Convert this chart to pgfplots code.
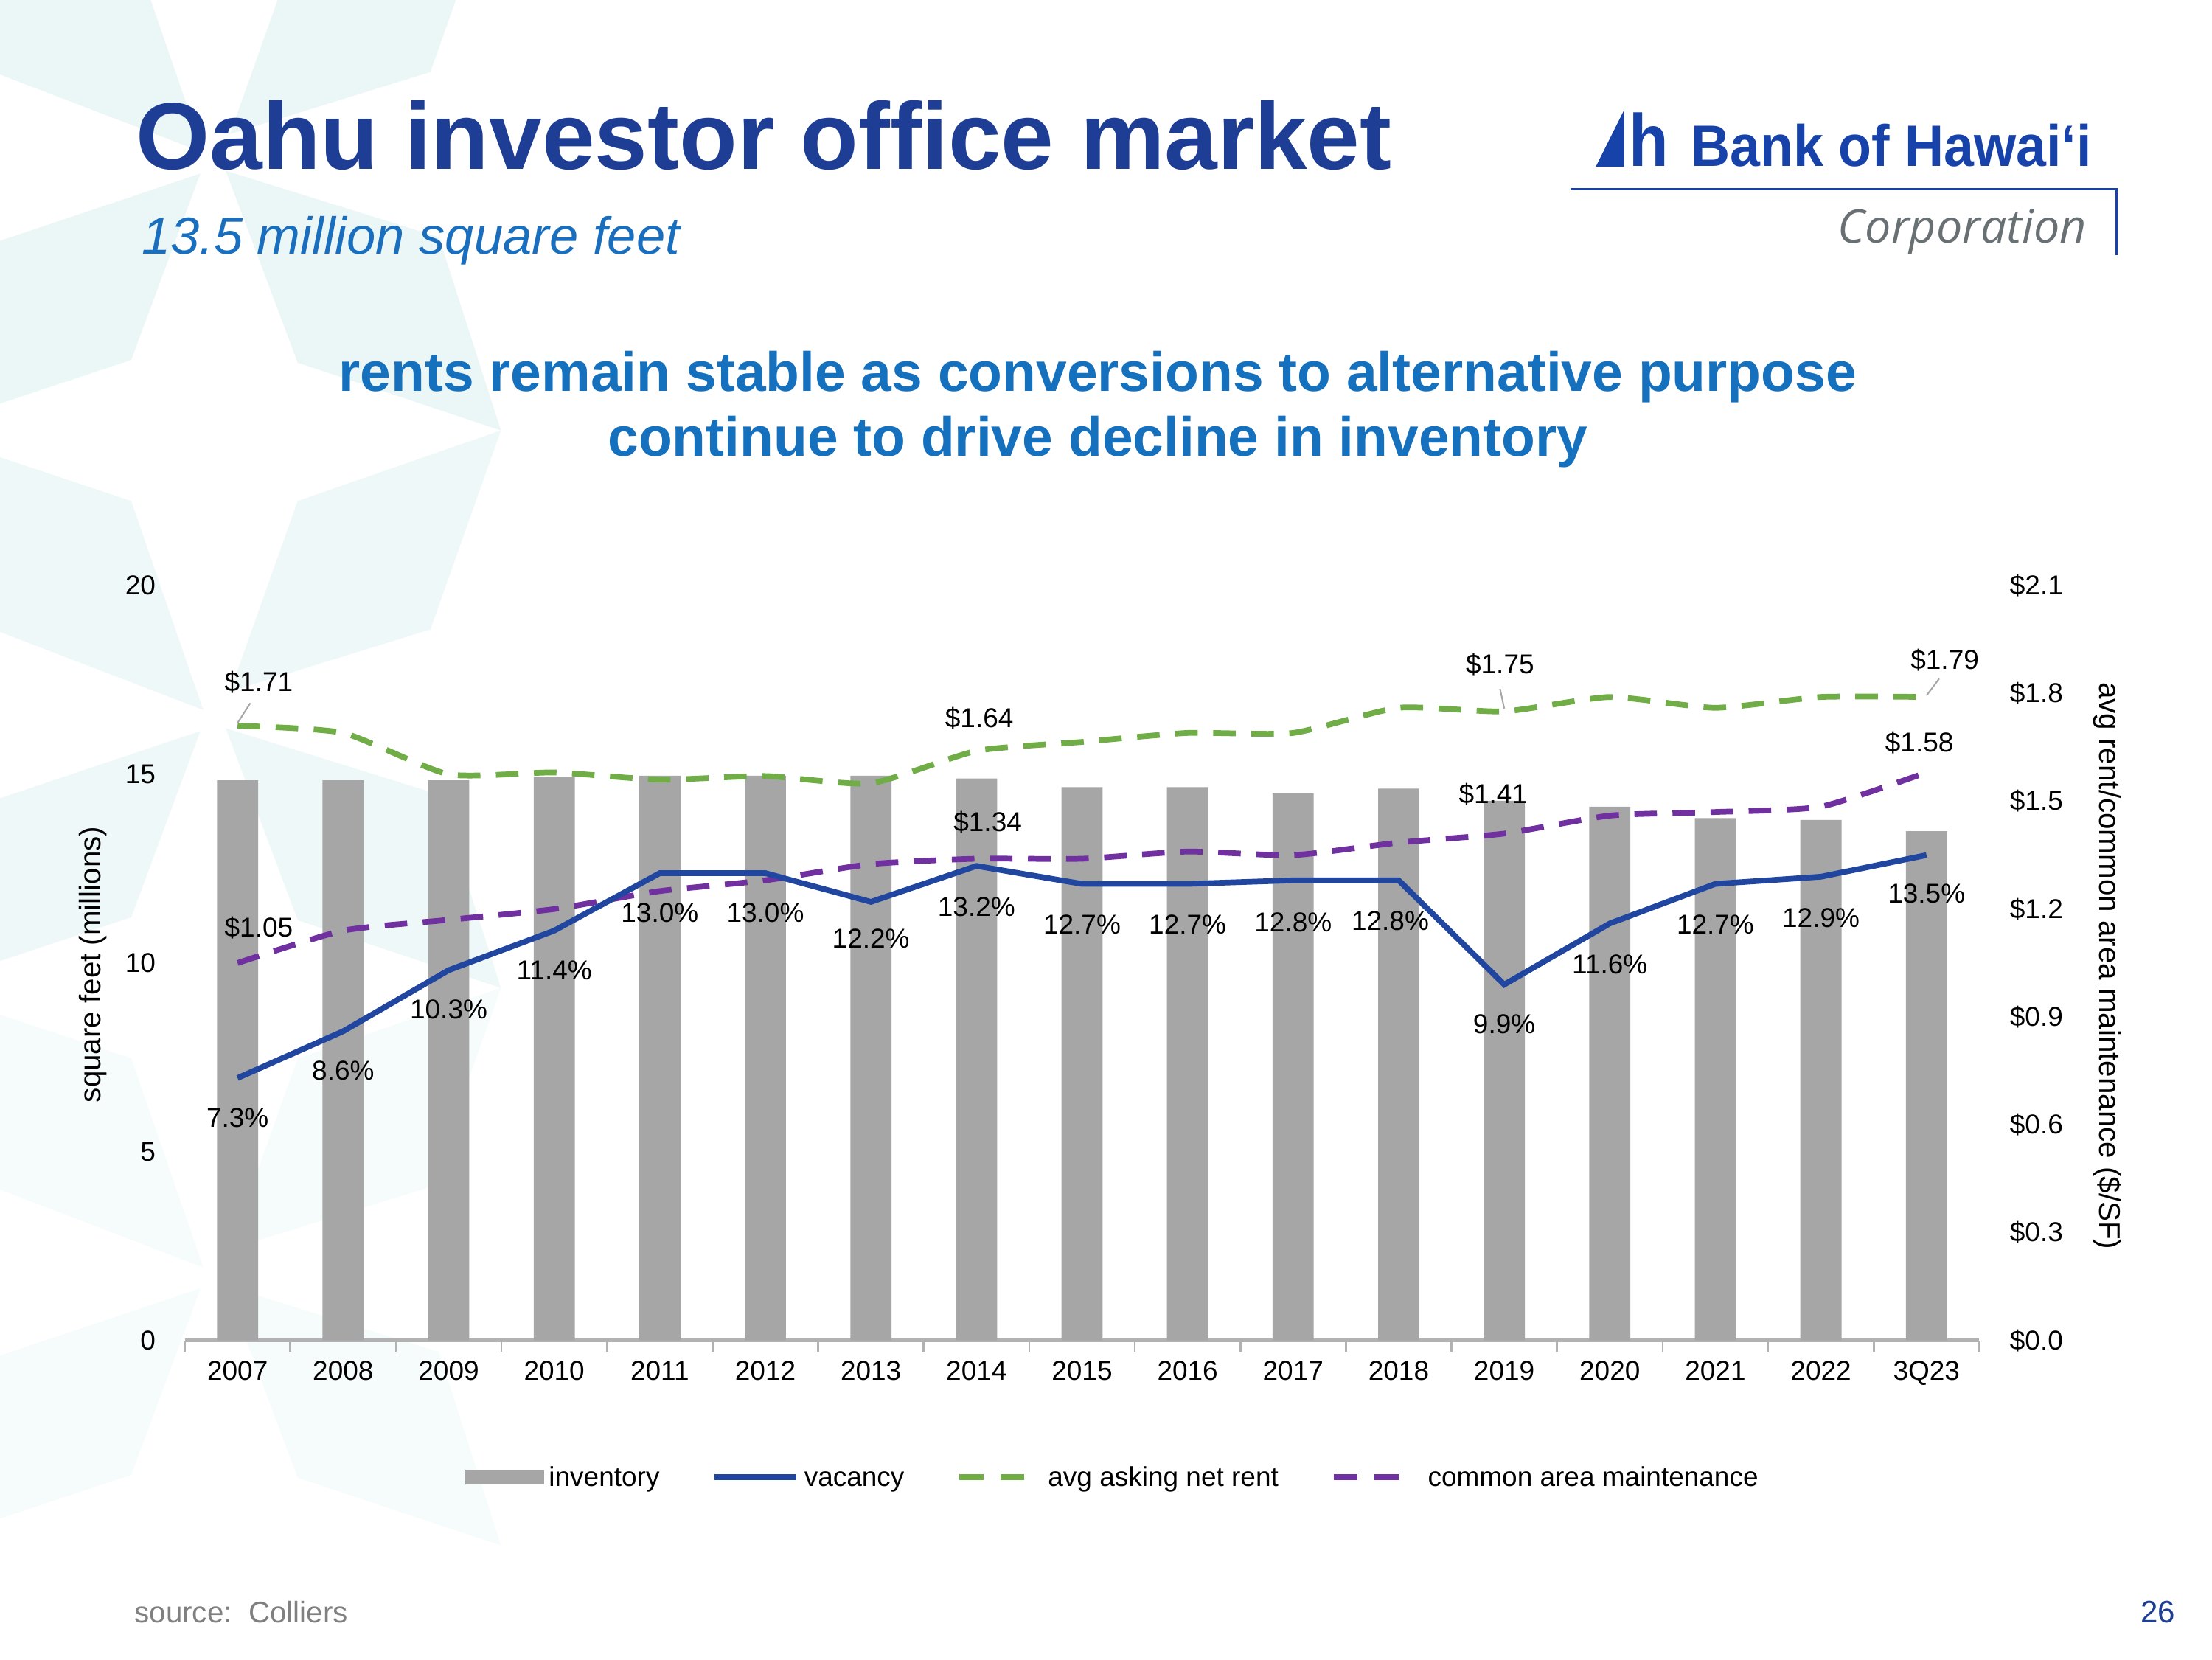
\documentclass[border=0pt]{standalone}
\usepackage{pgfplots}
\pgfplotsset{compat=1.18}
\usepackage{pgfplotstable}
\usepackage{fontspec}
\setmainfont{Liberation Sans}
\newfontfamily\corpfont{Open Sans}
\definecolor{titleBlue}{RGB}{30,62,150}
\definecolor{subBlue}{RGB}{25,110,190}
\definecolor{headBlue}{RGB}{21,112,190}
\definecolor{barGray}{RGB}{166,166,166}
\definecolor{vacBlue}{RGB}{32,70,160}
\definecolor{rentGreen}{RGB}{112,173,71}
\definecolor{camPurple}{RGB}{112,48,160}
\definecolor{bgA}{RGB}{235,246,247}
\definecolor{bgB}{RGB}{239,248,249}
\definecolor{bgC}{RGB}{246,251,251}
\definecolor{axisGray}{RGB}{178,178,178}
\definecolor{logoBlue}{RGB}{22,66,170}
\definecolor{corpGray}{RGB}{105,112,116}
\definecolor{srcGray}{RGB}{128,128,128}

\pgfplotstableread{
x inv vac rent cam
0 14.84 7.3 1.71 1.05
1 14.84 8.6 1.69 1.14
2 14.84 10.3 1.575 1.17
3 14.93 11.4 1.58 1.20
4 14.96 13.0 1.56 1.25
5 14.96 13.0 1.57 1.28
6 14.96 12.2 1.55 1.325
7 14.89 13.2 1.64 1.34
8 14.66 12.7 1.665 1.34
9 14.66 12.7 1.69 1.36
10 14.49 12.8 1.69 1.35
11 14.62 12.8 1.76 1.385
12 14.30 9.9 1.75 1.41
13 14.14 11.6 1.79 1.46
14 13.84 12.7 1.76 1.47
15 13.79 12.9 1.79 1.485
16 13.49 13.5 1.79 1.58
}\datatable

\pgfplotsset{
  /pgf/number format/assume math mode=true,
  common/.style={
    at={(2.62cm,-19cm)}, anchor=south west,
    scale only axis, width=25.44cm, height=10.7cm,
    xmin=-0.5, xmax=16.5,
  },
}
\newcommand{\lbl}{\fontsize{11}{13}\selectfont}
% one background star made of four kites around centre (#1,#2)
\newcommand{\bgstar}[3]{%
  \fill[#3] (#1,#2) -- ++(-51,-148) -- ++(-249,-83) -- ++(0,116) -- cycle;
  \fill[#3] ([shift={(19,-13)}]#1,#2) -- ++(48,-135) -- ++(144,-50) -- ++(-50,141) -- cycle;
  \fill[#3] ([shift={(-2,15)}]#1,#2) -- ++(-49,132) -- ++(-249,83) -- ++(0,-115) -- cycle;
  \fill[#3] ([shift={(16,13)}]#1,#2) -- ++(151,47) -- ++(44,137) -- ++(-144,-48) -- cycle;
}

\begin{document}
\begin{tikzpicture}
\path[use as bounding box, fill=white] (0,0) rectangle (31.36cm,-23.52cm);
\begin{scope}[x=0.02cm,y=-0.02cm]
  \clip (0,0) rectangle (1568,1176);
  % background stars (decorative)
  \bgstar{144}{108}{bgA}
  \bgstar{144}{503}{bgB}
  \bgstar{144}{898}{bgC}
  % titles
  \node[anchor=base west, inner sep=0, text=titleBlue, font=\fontsize{38.3}{46}\selectfont\bfseries] at (96,120) {Oahu investor office market};
  \node[anchor=base west, inner sep=0, text=subBlue, font=\fontsize{21}{24}\selectfont\itshape] at (100,180) {13.5 million square feet};
  \node[anchor=base, inner sep=0, text=headBlue, font=\fontsize{22.3}{26}\selectfont\bfseries] at (778,277) {rents remain stable as conversions to alternative purpose};
  \node[anchor=base, inner sep=0, text=headBlue, font=\fontsize{22.3}{26}\selectfont\bfseries] at (778,323) {continue to drive decline in inventory};
  % logo
  \fill[logoBlue] (1131,118) -- (1151,78) -- (1151,118) -- cycle;
  \node[anchor=base west, inner sep=0, text=logoBlue] at (1154,118) {\resizebox{0.56cm}{0.76cm}{\bfseries h}};
  \node[anchor=base west, inner sep=0, text=logoBlue] at (1198,118) {\resizebox{5.68cm}{0.6cm}{\bfseries Bank of Hawai‘i}};
  \draw[logoBlue, line width=0.04cm] (1113,134) -- (1500,134) -- (1500,181);
  \node[anchor=base east, inner sep=0, text=corpGray] at (1479,172) {\resizebox{3.52cm}{!}{\corpfont\itshape Corporation}};
  % footer
  \node[anchor=base west, inner sep=0, text=srcGray, font=\fontsize{12}{14}\selectfont] at (95,1150) {source:\ \ Colliers};
  \node[anchor=base east, inner sep=0, text=titleBlue, font=\fontsize{12.5}{14}\selectfont] at (1542,1150) {26};
\end{scope}

% ---------- axis 1: inventory (left) ----------
\begin{axis}[common,
  ymin=0, ymax=20, ytick={0,5,10,15,20},
  axis x line*=bottom, axis y line*=left,
  x axis line style={axisGray, line width=1.5pt, -},
  y axis line style={draw=none},
  xtick={0,...,16},
  xticklabels={2007,2008,2009,2010,2011,2012,2013,2014,2015,2016,2017,2018,2019,2020,2021,2022,3Q23},
  minor xtick={-0.5,0.5,...,16.5},
  major tick length=0pt, minor tick length=0.16cm,
  tick align=outside,
  minor tick style={axisGray, line width=0.8pt},
  major tick style={draw=none},
  tick label style={font=\lbl, text=black},
  xticklabel style={yshift=-0.17cm},
  yticklabel style={xshift=-0.29cm},
  ylabel={square feet (millions)},
  every axis y label/.style={at={(axis description cs:-0.0511,0.498)}, rotate=90, anchor=center, font=\fontsize{12}{14}\selectfont},
]
\addplot[ybar, bar width=0.39, fill=barGray, draw=none] table[x=x,y=inv]{\datatable};
\end{axis}

% ---------- axis 2: rent & CAM (right) ----------
\begin{axis}[common,
  ymin=0, ymax=2.1, ytick={0,0.3,0.6,0.9,1.2,1.5,1.8,2.1},
  axis x line=none, axis y line*=right,
  y axis line style={draw=none},
  major tick length=0pt, major tick style={draw=none},
  yticklabel={\$\pgfmathprintnumber[fixed,fixed zerofill,precision=1]{\tick}},
  tick label style={font=\lbl, text=black},
  yticklabel style={xshift=0.31cm},
  ylabel={avg rent/common area maintenance (\$/SF)},
  every axis y label/.style={at={(axis description cs:1.0715,0.496)}, rotate=-90, anchor=center, font=\fontsize{12}{14}\selectfont},
  clip=false,
]
\addplot[rentGreen, line width=2.3pt, dash pattern=on 0.32cm off 0.22cm, smooth, tension=0.35] table[x=x,y=rent]{\datatable};
\addplot[camPurple, line width=2.3pt, dash pattern=on 0.32cm off 0.22cm, smooth, tension=0.35] table[x=x,y=cam]{\datatable};
\begin{scope}[every node/.style={font=\lbl, text=black, inner sep=0}]
\node at (axis cs:0,1.71) [xshift=0.3cm, yshift=0.62cm] {\$1.71};
\draw[barGray, line width=0.6pt] ([yshift=0.04cm]axis cs:0,1.71) -- ++(0.18cm,0.28cm);
\node at (axis cs:7,1.64) [xshift=0.04cm, yshift=0.46cm] {\$1.64};
\node at (axis cs:12,1.75) [xshift=-0.06cm, yshift=0.66cm] {\$1.75};
\draw[barGray, line width=0.6pt] ([yshift=0.04cm]axis cs:12,1.75) -- ++(-0.06cm,0.28cm);
\node at (axis cs:16,1.79) [xshift=0.26cm, yshift=0.52cm] {\$1.79};
\draw[barGray, line width=0.6pt] ([yshift=0.02cm]axis cs:16,1.79) -- ++(0.18cm,0.24cm);
\node at (axis cs:0,1.05) [xshift=0.3cm, yshift=0.5cm] {\$1.05};
\node at (axis cs:7,1.34) [xshift=0.16cm, yshift=0.52cm] {\$1.34};
\node at (axis cs:12,1.41) [xshift=-0.16cm, yshift=0.56cm] {\$1.41};
\node at (axis cs:16,1.58) [xshift=-0.1cm, yshift=0.42cm] {\$1.58};
\end{scope}
\end{axis}

% ---------- axis 3: vacancy (hidden scale) ----------
\begin{axis}[common,
  ymin=0, ymax=21, hide axis, clip=false,
  legend columns=4,
  legend style={draw=none, fill=none, at={(0.518,-0.181)}, anchor=center, font=\lbl,
    /tikz/every even column/.append style={column sep=0.67cm}},
]
\addplot[vacBlue, line width=2.3pt, forget plot] table[x=x,y=vac]{\datatable};
\addlegendimage{legend image code/.code={\fill[barGray] (0cm,-0.1cm) rectangle (1.1cm,0.1cm);}}
\addlegendentry{\strut inventory}
\addlegendimage{legend image code/.code={\draw[vacBlue, line width=2.3pt] (0cm,0cm) -- (1.16cm,0cm);}}
\addlegendentry{\strut vacancy}
\addlegendimage{legend image code/.code={\draw[rentGreen, line width=2.3pt] (0cm,0cm) -- (0.34cm,0cm) (0.58cm,0cm) -- (0.92cm,0cm); \path (1.18cm,0cm);}}
\addlegendentry{\strut avg asking net rent}
\addlegendimage{legend image code/.code={\draw[camPurple, line width=2.3pt] (0cm,0cm) -- (0.34cm,0cm) (0.58cm,0cm) -- (0.92cm,0cm); \path (1.26cm,0cm);}}
\addlegendentry{\strut common area maintenance}
\begin{scope}[every node/.style={font=\lbl, text=black, inner sep=0}]
\node at (axis cs:0,7.3) [yshift=-0.56cm] {7.3\%};
\node at (axis cs:1,8.6) [yshift=-0.56cm] {8.6\%};
\node at (axis cs:2,10.3) [yshift=-0.56cm] {10.3\%};
\node at (axis cs:3,11.4) [yshift=-0.56cm] {11.4\%};
\node at (axis cs:4,13.0) [yshift=-0.56cm] {13.0\%};
\node at (axis cs:5,13.0) [yshift=-0.56cm] {13.0\%};
\node at (axis cs:6,12.2) [yshift=-0.52cm] {12.2\%};
\node at (axis cs:7,13.2) [yshift=-0.58cm] {13.2\%};
\node at (axis cs:8,12.7) [yshift=-0.58cm] {12.7\%};
\node at (axis cs:9,12.7) [yshift=-0.58cm] {12.7\%};
\node at (axis cs:10,12.8) [yshift=-0.6cm] {12.8\%};
\node at (axis cs:11,12.8) [xshift=-0.12cm, yshift=-0.58cm] {12.8\%};
\node at (axis cs:12,9.9) [yshift=-0.56cm] {9.9\%};
\node at (axis cs:13,11.6) [yshift=-0.58cm] {11.6\%};
\node at (axis cs:14,12.7) [yshift=-0.58cm] {12.7\%};
\node at (axis cs:15,12.9) [yshift=-0.58cm] {12.9\%};
\node at (axis cs:16,13.5) [yshift=-0.54cm] {13.5\%};
\end{scope}
\end{axis}
\end{tikzpicture}
\end{document}
